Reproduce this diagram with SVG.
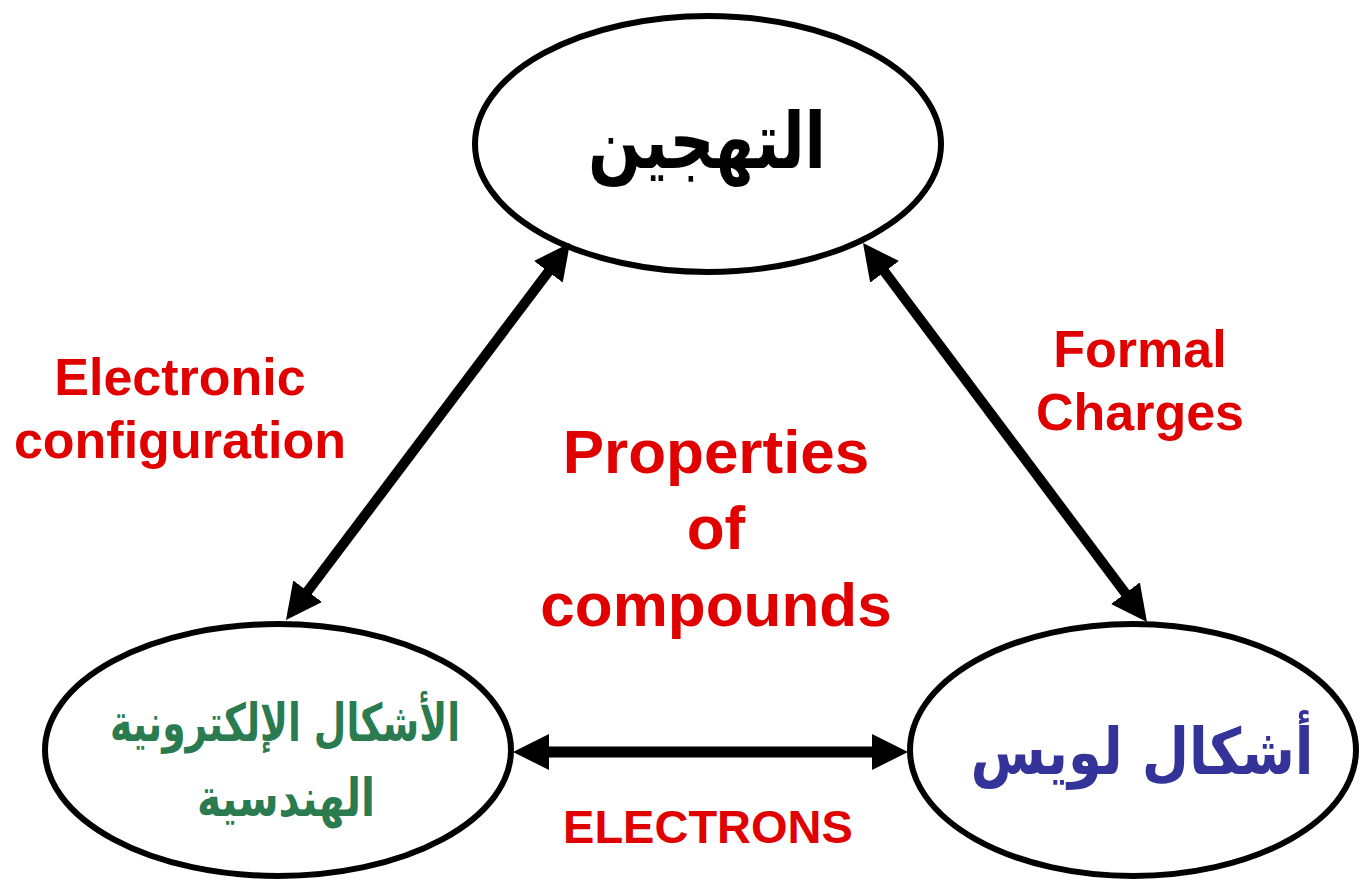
<svg xmlns="http://www.w3.org/2000/svg" width="1361" height="882" viewBox="0 0 1361 882">
<style>
.node ellipse{fill:#fff;stroke:#000;stroke-width:6}
.ar{font-family:"DejaVu Sans","Noto Sans",sans-serif;font-weight:bold;text-anchor:middle}
.lbl{font-family:"Liberation Sans",Arial,sans-serif;font-weight:bold;fill:#e00000;text-anchor:middle}
.conn line{stroke:#000;marker-start:url(#ah);marker-end:url(#ah)}
</style>
<defs>
<marker id="ah" viewBox="0 0 36 36" refX="6" refY="18" markerWidth="36" markerHeight="36" markerUnits="userSpaceOnUse" orient="auto-start-reverse">
<path d="M0,0 L36,18 L0,36 z" fill="#000"/>
</marker>
</defs>
<rect width="1361" height="882" fill="#fff"/>
<g id="node-hybridization" class="node">
<ellipse cx="708" cy="144" rx="233" ry="128"/>
<text class="ar" x="707" y="168" font-size="78" fill="#000" textLength="238" lengthAdjust="spacingAndGlyphs">التهجين</text>
</g>
<g id="node-geometry" class="node">
<ellipse cx="278" cy="750" rx="233" ry="126"/>
<text class="ar" x="285" y="741" font-size="52" fill="#2b7b50" textLength="350" lengthAdjust="spacingAndGlyphs">الأشكال الإلكترونية</text>
<text class="ar" x="286" y="816" font-size="52" fill="#2b7b50" textLength="178" lengthAdjust="spacingAndGlyphs">الهندسية</text>
</g>
<g id="node-lewis" class="node">
<ellipse cx="1133" cy="750" rx="223" ry="126"/>
<text class="ar" x="0" y="0" font-size="64" fill="#333399" transform="translate(1142,774) scale(0.852,1)">أشكال لويس</text>
</g>
<g id="connectors" class="conn">
<line x1="551.95" y1="266.96" x2="304.05" y2="596.04" stroke-width="10"/>
<line x1="880.99" y1="267.01" x2="1129.01" y2="597.99" stroke-width="10"/>
<line x1="543" y1="752" x2="878" y2="752" stroke-width="11"/>
</g>
<g id="labels">
<text class="lbl" x="180" y="395" font-size="52">Electronic</text>
<text class="lbl" x="180" y="458" font-size="52">configuration</text>
<text class="lbl" x="1140" y="367" font-size="52">Formal</text>
<text class="lbl" x="1140" y="430" font-size="52">Charges</text>
<text class="lbl" x="716" y="473" font-size="62">Properties</text>
<text class="lbl" x="716" y="549" font-size="62">of</text>
<text class="lbl" x="716" y="626" font-size="62">compounds</text>
<text class="lbl" x="708" y="843" font-size="47">ELECTRONS</text>
</g>
</svg>
